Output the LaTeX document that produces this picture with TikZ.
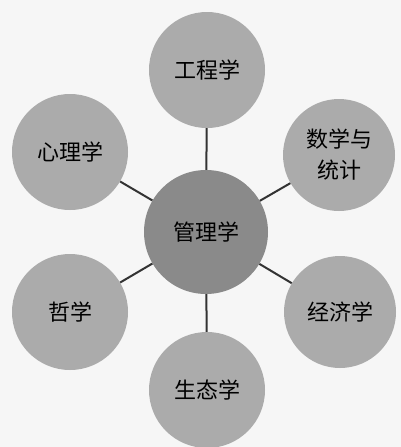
\documentclass[tikz,border=0pt]{standalone}
\usepackage{fontspec}
\newfontfamily\cjk{Noto Sans CJK SC}
\definecolor{bgc}{HTML}{F6F6F6}
\definecolor{outerc}{HTML}{ABABAB}
\definecolor{innerc}{HTML}{8A8A8A}
\definecolor{linec}{HTML}{333333}
\begin{document}
\begin{tikzpicture}[x=1pt,y=-1pt,
  disc/.style={circle,fill=outerc,inner sep=0pt,minimum size=116pt,font=\cjk\fontsize{22}{31}\selectfont,text=black,align=center},
  hub/.style={disc,fill=innerc,minimum size=124pt},
  link/.style={draw=linec,line width=2pt}]
\fill[bgc] (0,0) rectangle (401,447);
\useasboundingbox (0,0) rectangle (401,447);
\node[hub]  (c)  at (206,232) {管理学};
\node[disc] (t)  at (207,70)  {工程学};
\node[disc] (ul) at (70,152)  {心理学};
\node[disc,minimum size=112pt] (ur) at (339,155) {数学与\\统计};
\node[disc] (ll) at (70,312)  {哲学};
\node[disc,minimum size=112pt] (lr) at (340,312) {经济学};
\node[disc] (b)  at (207,390) {生态学};
\foreach \n in {t,ul,ur,ll,lr,b}{\draw[link] (c) -- (\n);}
\end{tikzpicture}
\end{document}
